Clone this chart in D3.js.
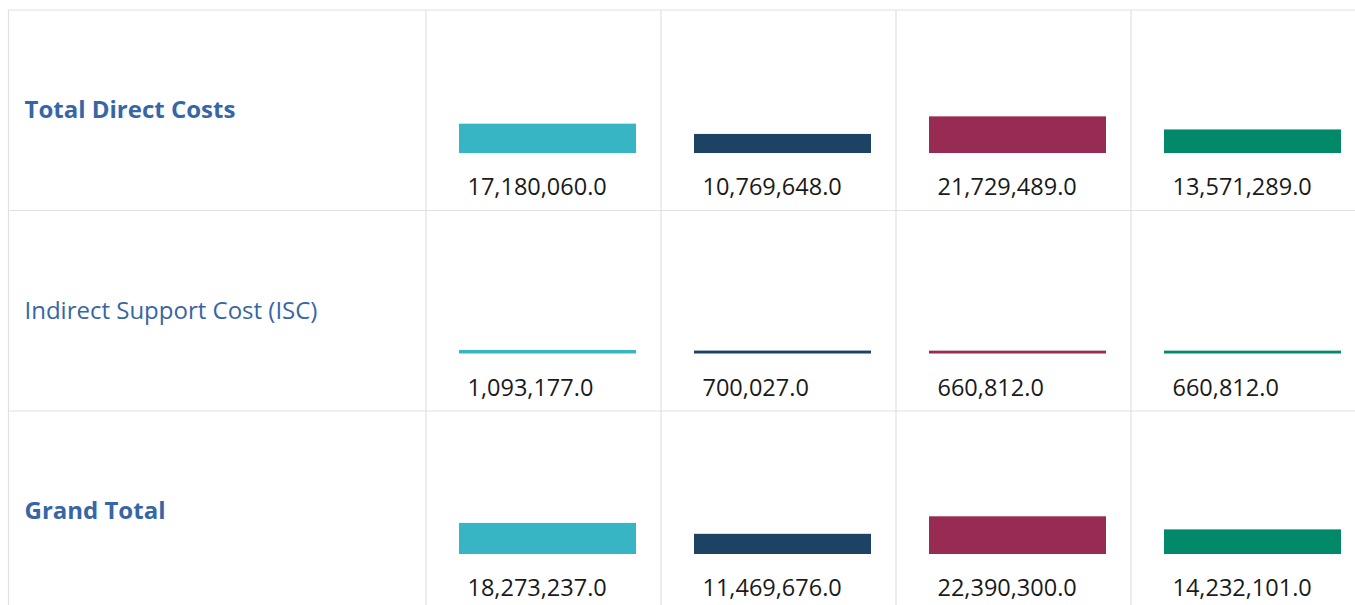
<!DOCTYPE html>
<html><head><meta charset="utf-8">
<script src="https://cdn.jsdelivr.net/npm/d3@7"></script>
<style>
html,body{margin:0;padding:0;background:#fff;overflow:hidden;}
svg{display:block;font-family:"Open Sans","Noto Sans",sans-serif;}
</style></head><body>
<svg id="chart" width="1355" height="605"></svg>
<script>
// ---- data ----
const rowLabels = ["Total Direct Costs", "Indirect Support Cost (ISC)", "Grand Total"];
const rowBold = [true, false, true];
const seriesNames = ["S1", "S2", "S3", "S4"];
const seriesColors = ["#37b5c4", "#1d4263", "#982b54", "#02896a"];
const totalDirect = [17180060, 10769648, 21729489, 13571289];
const isc = [1093177, 700027, 660812, 660812];
const grandTotal = [18273237, 11469676, 22390300, 14232101];
const rowValues = [totalDirect, isc, grandTotal];

// ---- layout ----
const svg = d3.select("#chart");
const W = 1355, H = 605;
const tLeft = 8.5, tTop = 10, labelColRight = 426, tableRight = 1366;
const rowH = 200.5;
const grid = "#e1e1e1";

const y = d3.scaleBand().domain(rowLabels).range([tTop, tTop + rowH * rowLabels.length]);
const x = d3.scaleBand().domain(seriesNames).range([labelColRight, tableRight]);
const maxV = d3.max(rowValues.flat());
const h = d3.scaleLinear().domain([0, maxV]).range([1.8, 37.7]);
const color = d3.scaleOrdinal().domain(seriesNames).range(seriesColors);
const fmt = d3.format(",.1f");

const barInset = 33, barW = 177, barBottom = 143, valueBase = 185, valueInset = 41.5;

// grid lines
const g = svg.append("g");
rowLabels.forEach(r => {
  g.append("line").attr("x1", tLeft).attr("x2", tableRight)
    .attr("y1", y(r)).attr("y2", y(r)).attr("stroke", grid).attr("stroke-width", 1.2);
});
g.append("line").attr("x1", tLeft).attr("x2", tLeft).attr("y1", tTop).attr("y2", H)
  .attr("stroke", grid).attr("stroke-width", 1.2);
[labelColRight, ...seriesNames.slice(1).map(s => x(s))].forEach(xx => {
  g.append("line").attr("x1", xx).attr("x2", xx).attr("y1", tTop).attr("y2", H)
    .attr("stroke", grid).attr("stroke-width", 1.2);
});

// row labels
svg.append("g").selectAll("text").data(rowLabels).join("text")
  .attr("x", 24.5).attr("y", d => y(d) + 108)
  .attr("fill", "#3766a6")
  .attr("font-size", 24)
  .attr("font-weight", (d, i) => rowBold[i] ? 700 : 400)
  .text(d => d);

// bars and values
rowLabels.forEach((r, ri) => {
  const data = rowValues[ri].map((v, i) => ({ s: seriesNames[i], v }));
  const rg = svg.append("g");
  rg.selectAll("rect").data(data).join("rect")
    .attr("x", d => x(d.s) + barInset)
    .attr("width", barW)
    .attr("y", d => y(r) + barBottom - h(d.v))
    .attr("height", d => h(d.v))
    .attr("fill", d => color(d.s));
  rg.selectAll("text").data(data).join("text")
    .attr("x", d => x(d.s) + valueInset)
    .attr("y", y(r) + valueBase)
    .attr("fill", "#1a1a1a")
    .attr("font-size", 23.5)
    .text(d => fmt(d.v));
});
</script>
</body></html>
